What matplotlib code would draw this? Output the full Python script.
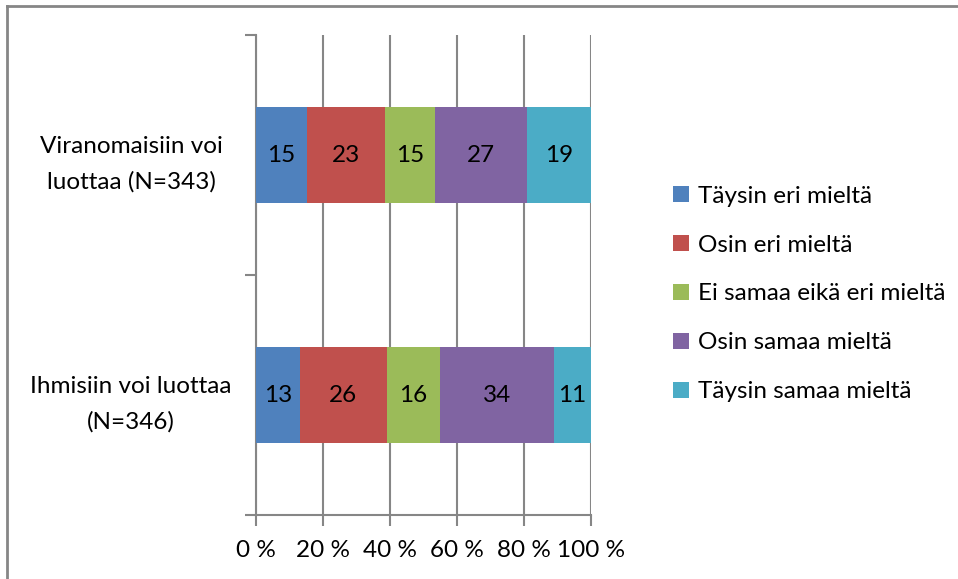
import numpy as np
import matplotlib
matplotlib.use('Agg')
import matplotlib.pyplot as plt
from matplotlib.lines import Line2D

# Data
categories = ['Ihmisiin voi luottaa\n(N=346)', 'Viranomaisiin voi\nluottaa (N=343)']
series = ['Täysin eri mieltä', 'Osin eri mieltä', 'Ei samaa eikä eri mieltä',
          'Osin samaa mieltä', 'Täysin samaa mieltä']
values = np.array([
    [13, 26, 16, 34, 11],   # Ihmisiin
    [15, 23, 15, 27, 19],   # Viranomaisiin
], dtype=float)
colors = ['#4F81BD', '#C0504D', '#9BBB59', '#8064A2', '#4BACC6']
xticks = [0, 20, 40, 60, 80, 100]

plt.rcParams['font.family'] = ['Lato', 'DejaVu Sans']
FS = 17.5
GRAY = '#868686'

fig = plt.figure(figsize=(9.58, 5.79), dpi=100)
ax = fig.add_axes([256 / 958, 1 - 515 / 579, 335 / 958, 480 / 579])

# normalise rows to 100 %
shares = values / values.sum(axis=1, keepdims=True) * 100
ypos = np.arange(len(categories))
left = np.zeros(len(categories))
for j, name in enumerate(series):
    ax.barh(ypos, shares[:, j], left=left, height=0.4, color=colors[j],
            label=name, zorder=3)
    for i in range(len(categories)):
        ax.text(left[i] + shares[i, j] / 2, ypos[i], '%d' % values[i, j],
                ha='center', va='center', fontsize=FS, color='black', zorder=4)
    left += shares[:, j]

ax.set_xlim(0, 100)
ax.set_ylim(-0.5, len(categories) - 0.5)
ax.set_xticks(xticks)
ax.set_xticklabels(['%d %%' % t for t in xticks], fontsize=FS)
ax.set_yticks(ypos)
ax.set_yticklabels(categories, fontsize=FS, ha='center', multialignment='center',
                   linespacing=1.8)
ax.set_yticks(np.arange(-0.5, len(categories)), minor=True)
ax.tick_params(axis='y', which='major', length=0, pad=90)
ax.tick_params(axis='y', which='minor', length=8, width=1.5, color=GRAY)
ax.tick_params(axis='x', length=8, width=1.5, color=GRAY, pad=10)

ax.grid(axis='x', color=GRAY, linewidth=1.5, zorder=0)
for s in ['top', 'right']:
    ax.spines[s].set_visible(False)
for s in ['left', 'bottom']:
    ax.spines[s].set_color(GRAY)
    ax.spines[s].set_linewidth(1.5)

ax.legend(loc='center left', bbox_to_anchor=(663 / 958, 1 - 294 / 579),
          bbox_transform=fig.transFigure, frameon=False, fontsize=FS,
          handlelength=0.65, handleheight=0.65, handletextpad=0.4,
          labelspacing=1.15, borderaxespad=0)

# outer chart border (top and left visible)
fig.add_artist(Line2D([7 / 958, 7 / 958], [0, 1 - 6 / 579], transform=fig.transFigure,
                      color=GRAY, linewidth=2))
fig.add_artist(Line2D([7 / 958, 1], [1 - 6 / 579, 1 - 6 / 579], transform=fig.transFigure,
                      color=GRAY, linewidth=2))

plt.savefig('out.png', dpi=100)
plt.close()
